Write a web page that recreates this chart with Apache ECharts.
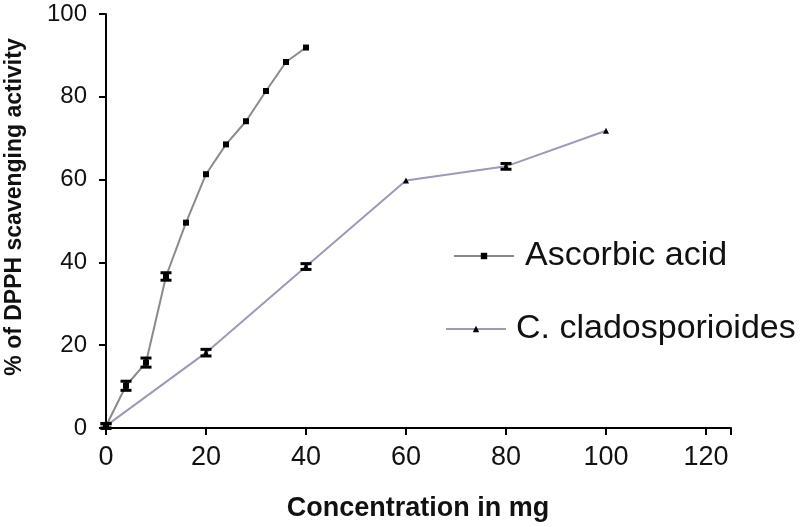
<!DOCTYPE html>
<html><head><meta charset="utf-8">
<script src="https://cdn.jsdelivr.net/npm/echarts@6/dist/echarts.min.js"></script>
<style>html,body{margin:0;padding:0;background:#fff}#c{width:800px;height:527px}</style>
</head><body><div id="c"></div>
<script>
const ascX = [0, 4, 8, 12, 16, 20, 24, 28, 32, 36, 40];
const ascY = [0.5, 10.2, 15.8, 36.6, 49.6, 61.3, 68.5, 74.1, 81.4, 88.4, 91.9];
const ascErr = [0.6, 1.1, 1.1, 0.9, 0, 0, 0, 0, 0, 0, 0];
const cladX = [0, 20, 40, 60, 80, 100];
const cladY = [0.5, 18.2, 39.0, 59.8, 63.2, 71.8];
const cladErr = [0.5, 0.8, 0.7, 0, 0.7, 0];
const xTicks = [0, 20, 40, 60, 80, 100, 120];
const yTicks = [0, 20, 40, 60, 80, 100];

const font = '"Liberation Sans", Arial, sans-serif';
const ascPts = ascX.map((x, i) => [x, ascY[i]]);
const cladPts = cladX.map((x, i) => [x, cladY[i]]);
const errData = [];
ascX.forEach((x, i) => { if (ascErr[i] > 0) errData.push([x, ascY[i] - ascErr[i], ascY[i] + ascErr[i]]); });
cladX.forEach((x, i) => { if (cladErr[i] > 0) errData.push([x, cladY[i] - cladErr[i], cladY[i] + cladErr[i]]); });

const chart = echarts.init(document.getElementById('c'), null, {renderer: 'canvas'});
chart.setOption({
  animation: false,
  backgroundColor: '#fff',
  grid: {left: 106, right: 69, top: 14, bottom: 99, containLabel: false, outerBoundsMode: 'none'},
  xAxis: {
    type: 'value', min: 0, max: 125, interval: 20,
    axisLine: {lineStyle: {color: '#000', width: 2}},
    axisTick: {show: true, length: 7, lineStyle: {color: '#000', width: 2}},
    axisLabel: {fontFamily: font, fontSize: 27, color: '#111', margin: 16,
      formatter: v => xTicks.includes(v) ? String(v) : ''},
    splitLine: {show: false}
  },
  yAxis: {
    type: 'value', min: 0, max: 100, interval: 20,
    axisLine: {show: true, lineStyle: {color: '#000', width: 2}},
    axisTick: {show: true, length: 7, lineStyle: {color: '#000', width: 2}},
    axisLabel: {fontFamily: font, fontSize: 24, color: '#111', margin: 19,
      formatter: v => yTicks.includes(v) ? String(v) : ''},
    splitLine: {show: false}
  },
  graphic: [{
    type: 'text', x: 418, y: 509,
    style: {text: 'Concentration in mg', font: 'bold 27px "Liberation Sans", Arial, sans-serif',
      fill: '#111', align: 'center', verticalAlign: 'middle'}
  }, {
    type: 'text', x: 15, y: 207, rotation: Math.PI / 2,
    style: {text: '% of DPPH scavenging activity', font: 'bold 23px "Liberation Sans", Arial, sans-serif',
      fill: '#111', align: 'center', verticalAlign: 'middle'}
  }],
  legend: [{
    data: ['Ascorbic acid'], left: 453, top: 239, padding: 0, itemWidth: 60, itemHeight: 8, itemGap: 12,
    textStyle: {fontFamily: font, fontSize: 34, color: '#111', padding: [0, 0, 0, 6]}
  }, {
    data: ['C. cladosporioides'], left: 445, top: 312, padding: 0, itemWidth: 60, itemHeight: 8,
    textStyle: {fontFamily: font, fontSize: 34, color: '#111', padding: [0, 0, 0, 5]}
  }],
  series: [{
    name: 'Ascorbic acid', type: 'line', data: ascPts, symbol: 'rect', symbolSize: 6,
    lineStyle: {color: '#8a8a8a', width: 2}, itemStyle: {color: '#000'}, z: 3
  }, {
    name: 'C. cladosporioides', type: 'line', data: cladPts, symbol: 'triangle', symbolSize: 6,
    lineStyle: {color: '#9c9ab6', width: 2}, itemStyle: {color: '#000'}, z: 3
  }, {
    type: 'custom', data: errData, z: 4, silent: true,
    renderItem: function (params, api) {
      const x = api.value(0);
      const lo = api.coord([x, api.value(1)]);
      const hi = api.coord([x, api.value(2)]);
      const hw = 5.5;
      const st = {stroke: '#000', lineWidth: 3};
      return {type: 'group', children: [
        {type: 'line', shape: {x1: lo[0], y1: lo[1], x2: hi[0], y2: hi[1]}, style: st},
        {type: 'line', shape: {x1: lo[0] - hw, y1: lo[1], x2: lo[0] + hw, y2: lo[1]}, style: st},
        {type: 'line', shape: {x1: hi[0] - hw, y1: hi[1], x2: hi[0] + hw, y2: hi[1]}, style: st}
      ]};
    }
  }]
});
</script></body></html>
